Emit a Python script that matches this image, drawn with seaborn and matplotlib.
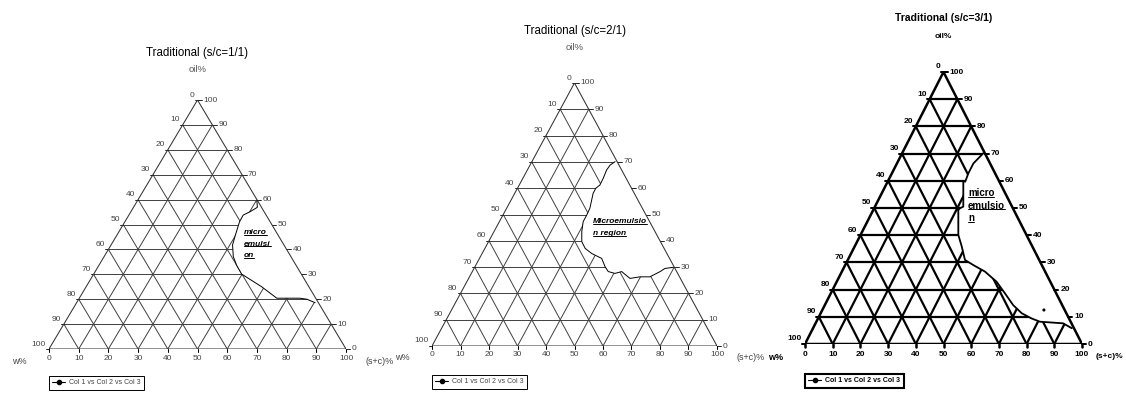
import numpy as np
import pandas as pd
import matplotlib
matplotlib.use("Agg")
import matplotlib.pyplot as plt
import seaborn as sns
from matplotlib.lines import Line2D

# Frontières de la zone microémulsion : (s+c)% et oil%
sc_11 = [40.2, 41.7, 40.1, 38.5, 38.6, 39.7, 40.9, 43.5, 46.3, 49.8, 52.9, 59.1, 66.5, 74.3, 76.8, 80.3]
oil_11 = [59.6, 56.9, 55.1, 53.8, 51.1, 46.5, 41.8, 37.1, 33.7, 30.1, 28.4, 25.0, 20.4, 20.4, 20.0, 18.6]

sc_21 = [29.2, 28.1, 27.8, 28.2, 28.3, 27.5, 27.5, 29.2, 29.4, 29.4, 30.8, 32.7, 35.2, 38.4, 42.9,
         45.6, 47.7, 50.4, 52.4, 56.6, 59.8, 63.3, 65.9, 67.0, 69.7]
oil_21 = [70.1, 68.8, 66.9, 63.8, 61.2, 60.0, 58.1, 52.4, 49.8, 47.3, 43.5, 39.7, 37.1, 35.2, 33.3,
          30.2, 28.3, 27.6, 28.3, 25.7, 26.3, 26.3, 28.3, 29.5, 29.9]

sc_31 = [29.3, 27.6, 27.6, 28.0, 27.3, 31.9, 31.0, 30.7, 35.3, 38.7, 42.3, 46.3, 51.7, 57.7, 62.9,
         68.0, 72.6, 77.1, 80.7, 89.4, 93.4]
oil_31 = [70.1, 66.4, 62.8, 59.7, 59.7, 50.5, 49.9, 49.3, 40.1, 35.8, 30.9, 29.0, 26.6, 22.9, 18.6,
          14.3, 11.3, 9.4, 8.2, 7.6, 5.8]

# point isolé du troisième diagramme
pt_sc_31 = [80.0]
pt_oil_31 = [12.5]

titres = ["Traditional (s/c=1/1)", "Traditional (s/c=2/1)", "Traditional (s/c=3/1)"]
graduations = list(range(0, 101, 10))
label_haut = "oil%"
label_gauche = "w%"
label_droite = "(s+c)%"
legende = "Col 1 vs Col 2 vs Col 3"
textes_zone = [["micro", "emulsi", "on"], ["Microemulsio", "n region"], ["micro", "emulsio", "n"]]

W, H = 1126, 394

# mise en page (pixels) : triangle gauche/droite/sommet/base, titre, légende, texte de zone
panneaux = [
    dict(sc=sc_11, oil=oil_11, pts=None, L=49, R=346, T=100, B=349, ty=53, oy=69, bas=-10,
         leg=(49, 376), zone=(65.7, 46.6, 4.6), gras=False, italique=True, droite=20),
    dict(sc=sc_21, oil=oil_21, pts=None, L=432, R=717, T=83, B=346, ty=31, oy=48, bas=-8,
         leg=(432, 375), zone=(56.5, 47.3, 4.7), gras=False, italique=True, droite=20),
    dict(sc=sc_31, oil=oil_31, pts=(pt_sc_31, pt_oil_31), L=805, R=1082, T=72, B=344, ty=18, oy=36,
         bas=-10, leg=(805, 374), zone=(58.8, 55.5, 4.6), gras=True, italique=False, droite=14),
]


def tern(sc, oil):
    """Passage des coordonnées ternaires ((s+c)%, oil%) au plan."""
    sc = np.asarray(sc, dtype=float)
    oil = np.asarray(oil, dtype=float)
    return sc + oil / 2, oil


sns.set_theme(style="white")
plt.rcParams["font.family"] = ["Liberation Sans", "DejaVu Sans"]

fig = plt.figure(figsize=(W / 100, H / 100), dpi=100)
fig.patch.set_facecolor("white")

textes_soulignes = []

for n, (p, titre) in enumerate(zip(panneaux, titres)):
    ax = fig.add_axes([p["L"] / W, 1 - p["B"] / H, (p["R"] - p["L"]) / W, (p["B"] - p["T"]) / H])
    gras = p["gras"]
    c_grille = "black" if gras else "#404040"
    lw_grille = 1.6 if gras else 0.7
    lw_bord = 1.8 if gras else 0.75
    poids = "bold" if gras else "normal"
    c_txt = "black" if gras else "#444444"

    # grille à 10 %
    for k in graduations[1:-1]:
        for xs, ys in (tern([0, 100 - k], [k, k]), tern([k, k], [0, 100 - k]), tern([100 - k, 0], [0, 100 - k])):
            ax.plot(xs, ys, color=c_grille, lw=lw_grille, zorder=1, solid_capstyle="butt")

    # zone microémulsion blanche
    sc = list(p["sc"])
    oil = list(p["oil"])
    fx, fy = tern(sc + [100 - oil[-1], 100 - oil[0]], oil + [oil[-1], oil[0]])
    ax.fill(fx, fy, color="white", lw=0, zorder=2)

    # bords du triangle
    ex, ey = tern([0, 100, 0, 0], [0, 0, 100, 0])
    ax.plot(ex, ey, color="black" if gras else "#333333", lw=lw_bord, zorder=3)

    # frontière
    bx, by = tern(sc, oil)
    df = pd.DataFrame({"x": bx, "y": by})
    sns.lineplot(data=df, x="x", y="y", sort=False, estimator=None, color="black",
                 lw=1.3 if gras else 0.7, ax=ax, zorder=3)
    if p["pts"] is not None:
        qx, qy = tern(*p["pts"])
        sns.scatterplot(x=qx, y=qy, color="black", s=5, ax=ax, zorder=3, edgecolor="none")

    # graduations et étiquettes
    for v in graduations:
        # bas : (s+c)%
        x, y = tern(v, 0)
        ax.plot([x, x], [0, -1.2], color="black", lw=lw_bord, clip_on=False)
        ax.annotate(str(v), (x, y), xytext=(0, p["bas"]), textcoords="offset pixels",
                    ha="center", va="center", fontsize=6, color=c_txt, weight=poids)
        # droite : oil%
        x, y = tern(100 - v, v)
        ax.plot([x, x + 1.5], [y, y], color="black", lw=lw_bord * 0.8, clip_on=False)
        ax.annotate(str(v), (x, y), xytext=(6, 0), textcoords="offset pixels",
                    ha="left", va="center", fontsize=6, color=c_txt, weight=poids)
        # gauche : w%
        x, y = tern(0, 100 - v)
        ax.plot([x - 1.0, x], [y, y], color="black", lw=lw_bord * 0.8, clip_on=False)
        ax.annotate(str(v), (x, y), xytext=(-3, 5), textcoords="offset pixels",
                    ha="right", va="center", fontsize=6, color=c_txt, weight=poids)

    ax.annotate(label_gauche, (0, 0), xytext=(-22, p["bas"] - 3), textcoords="offset pixels",
                ha="right", va="center", fontsize=6.5, color=c_txt, weight=poids)
    ax.annotate(label_droite, (100, 0), xytext=(p["droite"], p["bas"] - 3), textcoords="offset pixels",
                ha="left", va="center", fontsize=6 if gras else 6.5, color=c_txt, weight=poids)

    # titres
    cx = (p["L"] + p["R"]) / 2 / W
    fig.text(cx, 1 - p["ty"] / H, titre, ha="center", va="center",
             fontsize=7.5 if gras else 8.3, weight=poids, color="black")
    fig.text(cx, 1 - p["oy"] / H, label_haut, ha="center", va="center",
             fontsize=6 if gras else 6.8, weight=poids, color="black" if gras else "#555555")

    # texte de la zone
    zx, zy, dz = p["zone"]
    for i, ligne in enumerate(textes_zone[n]):
        t = ax.text(zx, zy - i * dz, ligne, ha="left", va="center", fontsize=7 if gras else 6,
                    weight="bold", style="italic" if p["italique"] else "normal",
                    color="black", zorder=4)
        textes_soulignes.append(t)

    # légende
    poignee = Line2D([], [], color="black", marker="o", markersize=3, lw=0.8)
    leg = ax.legend([poignee], [legende], loc="upper left",
                    bbox_to_anchor=(p["leg"][0] / W, 1 - p["leg"][1] / H),
                    bbox_transform=fig.transFigure, frameon=True, fancybox=False,
                    edgecolor="black", framealpha=1, handlelength=1.8,
                    borderpad=0.5, handletextpad=0.6, borderaxespad=0,
                    prop={"weight": poids, "size": 5})
    leg.get_frame().set_linewidth(1.5 if gras else 0.7)
    for t in leg.get_texts():
        t.set_color(c_txt)

    ax.set_xlim(0, 100)
    ax.set_ylim(0, 100)
    ax.axis("off")

# soulignement des textes de zone
fig.canvas.draw()
rendu = fig.canvas.get_renderer()
for t in textes_soulignes:
    bb = t.get_window_extent(rendu)
    yy = (bb.y0 + 1.5) / H
    fig.add_artist(Line2D([bb.x0 / W, bb.x1 / W], [yy, yy], transform=fig.transFigure,
                          color="black", lw=0.7))

fig.savefig("out.png", dpi=100, facecolor="white")
